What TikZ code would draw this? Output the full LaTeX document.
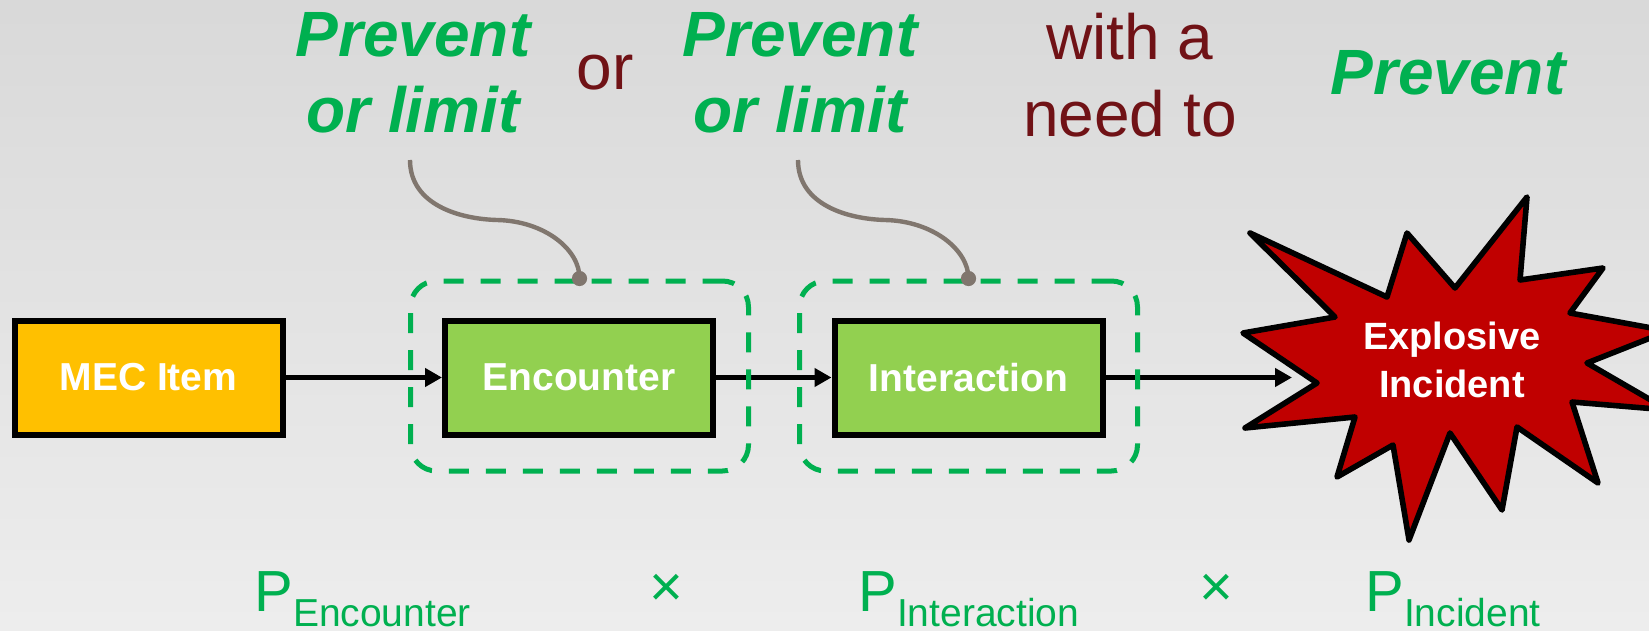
\documentclass[tikz,border=0pt]{standalone}
\usepackage{fontspec}
\setmainfont{Liberation Sans}
\usetikzlibrary{positioning,arrows.meta}

\definecolor{mecyellow}{HTML}{FFC000}
\definecolor{stepgreen}{HTML}{92D050}
\definecolor{textgreen}{HTML}{00B050}
\definecolor{darkred}{RGB}{112,18,22}
\definecolor{burstred}{HTML}{C00000}
\definecolor{calloutgray}{RGB}{128,118,110}

\newcommand{\probof}[1]{P\raisebox{-7.5pt}{\fontsize{19.5}{20}\selectfont #1}}

\begin{document}
\begin{tikzpicture}[x=0.5pt, y=-0.5pt,
    stage/.style={draw, line width=3pt, minimum width=134pt, minimum height=57pt, inner sep=0pt, text=white, font=\fontsize{19.5}{24}\selectfont\bfseries},
    guard/.style={draw=textgreen, line width=2.5pt, dash pattern=on 10pt off 8.5pt, rounded corners=13pt, minimum width=169pt, minimum height=95pt},
    callout/.style={draw=calloutgray, line width=2.2pt},
    flow/.style={line width=2.8pt, -{Triangle[length=8.5pt,width=9pt]}},
    aim/.style={text=textgreen, font=\fontsize{32}{38}\selectfont\bfseries\itshape, align=center, inner sep=0pt},
    link/.style={text=darkred, font=\fontsize{32}{38.5}\selectfont, align=center, inner sep=0pt},
    factor/.style={text=textgreen, font=\fontsize{29}{30}\selectfont, inner sep=0pt}]

    % background
    \fill[top color=black!15, bottom color=black!7] (0,0) rectangle (1649,631);
    \clip (0,0) rectangle (1649,631);

    % chain of events
    \node[stage, fill=mecyellow] (mec) at (148.5,377.5) {MEC Item};
    \node[stage, fill=stepgreen] (encounter) at (579,377.5) {Encounter};
    \node[stage, fill=stepgreen] (interaction) at (968.5,377.5) {Interaction};
    \coordinate (burstin) at (1292,377.5);

    \draw[flow] (mec) -- (encounter);
    \draw[flow] (encounter) -- (interaction);
    \draw[flow] (interaction) -- (burstin);

    % dashed frames
    \node[guard] (encguard) at (579.5,376) {};
    \node[guard] (intguard) at (968.5,376) {};

    % callouts
    \coordinate (enccall) at (410,160);
    \coordinate (intcall) at (798,160);
    \draw[callout] (enccall) .. controls (410,205) and (460,219) .. (497,220)
        .. controls (545,221) and (580,250) .. (encguard.north);
    \draw[callout] (intcall) .. controls (798,205) and (848,219) .. (885,220)
        .. controls (933,221) and (968.5,250) .. (intguard.north);
    \fill[calloutgray] (encguard.north) circle[radius=3.8pt];
    \fill[calloutgray] (intguard.north) circle[radius=3.8pt];

    % explosion
    \draw[line width=2.8pt, line join=round, fill=burstred]
        (1250,233) -- (1387,297) -- (1407,233) -- (1455,288) -- (1527,197)
        -- (1520,280) -- (1603,268) -- (1570,313) -- (1668,331) -- (1587,363)
        -- (1668,410) -- (1572,402) -- (1598,483) -- (1517,427) -- (1502,510)
        -- (1450,433) -- (1409,540) -- (1393,445) -- (1337,477) -- (1355,417)
        -- (1245,428) -- (1317,383) -- (1243,333) -- (1335,317) -- cycle;
    \node[text=white, font=\fontsize{19}{24}\selectfont\bfseries, align=center, inner sep=0pt] (incident) at (1452,360) {Explosive\\Incident};

    % top labels
    \node[aim, anchor=north] (limitenc) at (413,12) {Prevent\\or limit};
    \node[link, anchor=base] (ortext) at (605,90) {or};
    \node[aim, anchor=north] (limitint) at (800,12) {Prevent\\or limit};
    \node[link, anchor=north] (needtext) at (1130,13) {with a\\need to};
    \node[aim, anchor=north] (preventinc) at (1448,50) {Prevent};

    % probabilities
    \node[factor, anchor=base west] (penc) at (254,611) {\probof{Encounter}};
    \node[factor] (timesa) at (666,590) {×};
    \node[factor, anchor=base west] (pint) at (858,611) {\probof{Interaction}};
    \node[factor] (timesb) at (1216,590) {×};
    \node[factor, anchor=base west] (pinc) at (1365,611) {\probof{Incident}};
\end{tikzpicture}
\end{document}
